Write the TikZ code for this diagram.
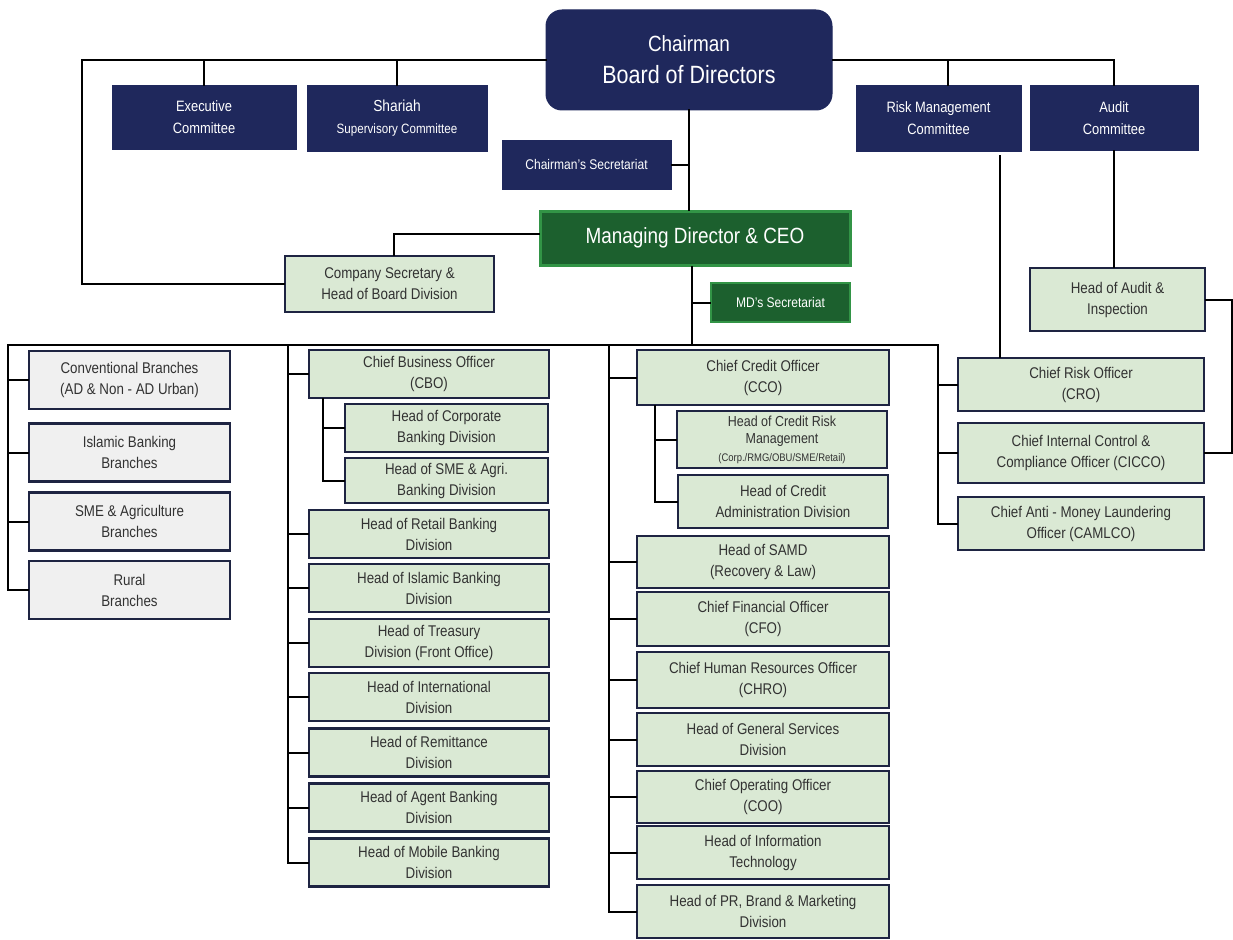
\documentclass[tikz,border=0pt]{standalone}
\usepackage{fontspec}
\setmainfont{Liberation Sans}[FakeStretch=0.86]
\usepackage{tikz}
\usetikzlibrary{positioning}
\definecolor{navy}{RGB}{31,40,92}
\definecolor{navyline}{RGB}{30,36,66}
\definecolor{boxgreen}{RGB}{218,233,212}
\definecolor{boxgray}{RGB}{240,240,240}
\definecolor{mdgreen}{RGB}{28,96,46}
\definecolor{mdrim}{RGB}{50,148,70}
\definecolor{txtgray}{RGB}{50,50,50}

\begin{document}
\begin{tikzpicture}[x=1pt,y=-1pt,
  link/.style={line width=2pt, line cap=rect},
  navybox/.style={draw=navy, line width=1pt, fill=navy, text=white, align=center, inner sep=0pt, font=\fontsize{15}{22}\selectfont},
  orgbox/.style={draw=navyline, line width=2.2pt, fill=boxgreen, text=txtgray, align=center, inner sep=0pt, font=\fontsize{15.5}{21}\selectfont},
  branchbox/.style={orgbox, fill=boxgray, minimum width=201, minimum height=58},
  mdbox/.style={draw=mdrim, line width=3pt, fill=mdgreen, text=white, align=center, inner sep=0pt},
  colB/.style={orgbox, minimum width=240, minimum height=48},
  colC/.style={orgbox, minimum width=252, minimum height=53},
  colD/.style={orgbox, minimum width=246, minimum height=53}]
\useasboundingbox (0,0) rectangle (1233,939);
% board level
\node[navybox, rounded corners=16pt, minimum width=286, minimum height=100, font=\fontsize{22}{32}\selectfont] (chair) at (689,60) {Chairman\\{\fontsize{25}{32}\selectfont Board of Directors}};
\node[navybox, minimum width=184, minimum height=63] (exec) at (204,117.5) {Executive\\Committee};
\node[navybox, minimum width=180, minimum height=65] (shariah) at (397,118.5) {{\fontsize{16}{22}\selectfont Shariah}\\{\fontsize{13.5}{22}\selectfont Supervisory Committee}};
\node[navybox, minimum width=165, minimum height=65] (risk) at (938.5,118.5) {Risk Management\\Committee};
\node[navybox, minimum width=168, minimum height=64] (audit) at (1114,118) {Audit\\Committee};
\node[navybox, minimum width=169, minimum height=49, font=\fontsize{14}{18}\selectfont] (csec) at (586.5,164.5) {Chairman's Secretariat};
% managing director
\node[mdbox, minimum width=310, minimum height=54, font=\fontsize{22}{26}\selectfont] (md) at (695,238) {Managing Director \& CEO};
\node[mdbox, line width=2.5pt, minimum width=139, minimum height=39, font=\fontsize{14}{18}\selectfont] (mdsec) at (780.5,302.5) {MD's Secretariat};
\node[orgbox, minimum width=209, minimum height=56] (cosec) at (389.5,284) {Company Secretary \&\\Head of Board Division};
\node[orgbox, minimum width=175, minimum height=63] (haudit) at (1117.5,299.5) {Head of Audit \&\\Inspection};
% 1st column
\node[branchbox] (conv) at (129.5,380) {Conventional Branches\\(AD \& Non - AD Urban)};
\node[branchbox] (ibb) at (129.5,452.5) {Islamic Banking\\Branches};
\node[branchbox] (smeb) at (129.5,521.5) {SME \& Agriculture\\Branches};
\node[branchbox] (rural) at (129.5,590) {Rural\\Branches};
% 2nd column
\node[colB] (cbo) at (429,374) {Chief Business Officer\\(CBO)};
\node[colB, minimum width=203] (corp) at (446.5,428) {Head of Corporate\\Banking Division};
\node[colB, minimum width=203, minimum height=45] (smeagri) at (446.5,480.5) {Head of SME \& Agri.\\Banking Division};
\node[colB] (retail) at (429,534) {Head of Retail Banking\\Division};
\node[colB] (islamic) at (429,588) {Head of Islamic Banking\\Division};
\node[colB] (treasury) at (429,643) {Head of Treasury\\Division (Front Office)};
\node[colB] (intl) at (429,697) {Head of International\\Division};
\node[colB] (remit) at (429,752.5) {Head of Remittance\\Division};
\node[colB] (agent) at (429,807.5) {Head of Agent Banking\\Division};
\node[colB] (mobile) at (429,862.5) {Head of Mobile Banking\\Division};
% 3rd column
\node[colC, minimum height=55] (cco) at (763,377.5) {Chief Credit Officer\\(CCO)};
\node[colC, minimum width=210, minimum height=57, font=\fontsize{14.5}{17.5}\selectfont] (crm) at (782,439.5) {Head of Credit Risk\\Management\\{\fontsize{11}{17.5}\selectfont (Corp./RMG/OBU/SME/Retail)}};
\node[colC, minimum width=210] (cad) at (783,501.5) {Head of Credit\\Administration Division};
\node[colC, minimum height=52] (samd) at (763,562) {Head of SAMD\\(Recovery \& Law)};
\node[colC, minimum height=54] (cfo) at (763,619) {Chief Financial Officer\\(CFO)};
\node[colC, minimum height=56] (chro) at (763,680) {Chief Human Resources Officer\\(CHRO)};
\node[colC] (gsd) at (763,739.5) {Head of General Services\\Division};
\node[colC, minimum height=52] (coo) at (763,797) {Chief Operating Officer\\(COO)};
\node[colC] (it) at (763,852.5) {Head of Information\\Technology};
\node[colC] (pr) at (763,911.5) {Head of PR, Brand \& Marketing\\Division};
% 4th column
\node[colD] (cro) at (1081,384.5) {Chief Risk Officer\\(CRO)};
\node[colD, minimum height=60] (cicco) at (1081,453) {Chief Internal Control \&\\Compliance Officer (CICCO)};
\node[colD] (camlco) at (1081,523.5) {Chief Anti - Money Laundering\\Officer (CAMLCO)};
% connectors
\coordinate (tl) at (82,60);
\coordinate (bus) at (692,345);
\coordinate (b1) at (8,345);
\coordinate (b2) at (288,345);
\coordinate (b3) at (609,345);
\coordinate (b4) at (938,345);
\draw[link] (chair.west) -- (tl) |- (cosec.west);
\draw[link] (exec.north) -- (exec.north |- tl);
\draw[link] (shariah.north) -- (shariah.north |- tl);
\draw[link] (chair.east) -| (audit.north);
\draw[link] ([xshift=9pt]risk.north) -- ([xshift=9pt]risk.north |- chair.east);
\draw[link] (chair.south) -- (chair.south |- md.north);
\draw[link] (csec.east) -- (csec.east -| chair.south);
\draw[link] ([yshift=4pt]md.west) -| ([xshift=4.5pt]cosec.north);
\draw[link] (md.south -| bus) -- (bus);
\draw[link] (mdsec.west) -- (mdsec.west -| bus);
\draw[link] (audit.south) -- (audit.south |- haudit.north);
\draw[link] (haudit.east) -- ++(26,0) |- (cicco.east);
\draw[link] ([xshift=61pt,yshift=-4pt]risk.south) -- ([xshift=61pt]risk.south |- cro.north);
\draw[link] (b1) -- (b4);
\draw[link] (b1) |- (conv.west) (b1) |- (ibb.west) (b1) |- (smeb.west) (b1) |- (rural.west);
\draw[link] (b2) |- (cbo.west) (b2) |- (retail.west) (b2) |- (islamic.west) (b2) |- (treasury.west)
    (b2) |- (intl.west) (b2) |- (remit.west) (b2) |- (agent.west) (b2) |- (mobile.west);
\draw[link] ([xshift=15pt]cbo.south west) |- (corp.west) ([xshift=15pt]cbo.south west) |- (smeagri.west);
\draw[link] (b3) |- (cco.west) (b3) |- (samd.west) (b3) |- (cfo.west) (b3) |- (chro.west)
    (b3) |- (gsd.west) (b3) |- (coo.west) (b3) |- (it.west) (b3) |- (pr.west);
\draw[link] ([xshift=19pt]cco.south west) |- (crm.west) ([xshift=19pt]cco.south west) |- (cad.west);
\draw[link] (b4) |- (cro.west) (b4) |- (cicco.west) (b4) |- (camlco.west);
\end{tikzpicture}
\end{document}
